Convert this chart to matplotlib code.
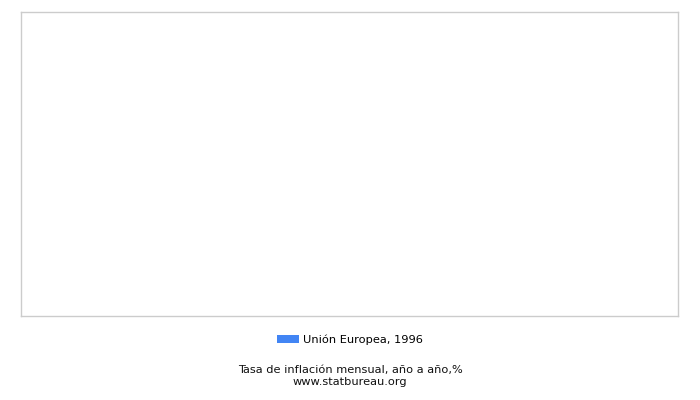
import matplotlib.pyplot as plt
from matplotlib.patches import Patch

# Chart data (the reference shows no data for this series)
series_label = "Unión Europea, 1996"
months = []
values = []

title = "Tasa de inflación mensual, año a año,%"
source = "www.statbureau.org"
bar_color = "#4285f4"

fig = plt.figure(figsize=(7, 4), dpi=100)
ax = fig.add_axes([21 / 700, 1 - 316 / 400, (678 - 21) / 700, (316 - 12) / 400])
ax.bar(months, values, color=bar_color)
ax.set_xticks([])
ax.set_yticks([])
for s in ax.spines.values():
    s.set_color("#cccccc")
    s.set_linewidth(1)

handle = Patch(facecolor=bar_color, edgecolor="none")
fig.legend([handle], [series_label], loc="center", bbox_to_anchor=(0.5, 1 - 340 / 400),
           frameon=False, fontsize=8.2, handlelength=1.95, handleheight=0.75,
           handletextpad=0.35)

fig.text(0.5, 1 - 370 / 400, title, ha="center", va="center", fontsize=8.2, color="#111111")
fig.text(0.5, 1 - 382 / 400, source, ha="center", va="center", fontsize=8.2, color="#111111")

fig.savefig("out.png", dpi=100)
